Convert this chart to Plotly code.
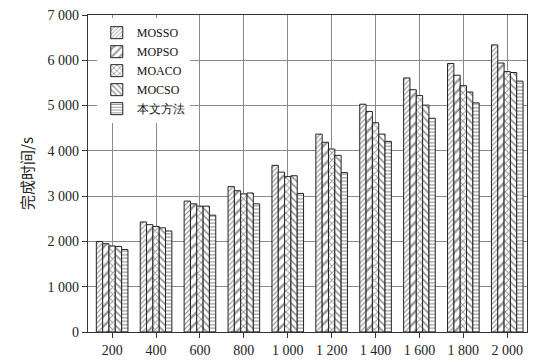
import plotly.graph_objects as go

# Task counts (x categories) and their printed labels
task_counts = [200, 400, 600, 800, 1000, 1200, 1400, 1600, 1800, 2000]
tick_labels = ["200", "400", "600", "800", "1 000", "1 200", "1 400", "1 600", "1 800", "2 000"]

# Completion time (s) for each algorithm
mosso = [2000, 2430, 2890, 3210, 3680, 4370, 5030, 5610, 5930, 6340]
mopso = [1950, 2370, 2830, 3120, 3530, 4190, 4870, 5350, 5670, 5940]
moaco = [1900, 2330, 2780, 3050, 3430, 4040, 4620, 5220, 5440, 5750]
mocso = [1890, 2300, 2780, 3070, 3450, 3900, 4370, 5010, 5300, 5730]
ours = [1820, 2230, 2580, 2830, 3060, 3520, 4210, 4720, 5060, 5540]

series = [
    ("MOSSO", mosso, "/", 3.5),
    ("MOPSO", mopso, "/", 7),
    ("MOACO", moaco, "x", 5),
    ("MOCSO", mocso, "\\", 5),
    ("本文方法", ours, "-", 3.5),
]

fig = go.Figure()
for name, vals, shape, size in series:
    fig.add_trace(go.Bar(
        x=tick_labels,
        y=vals,
        name=name,
        marker=dict(
            color="white",
            line=dict(color="#222222", width=1),
            pattern=dict(shape=shape, size=size, solidity=0.35,
                         fgcolor="#333333", bgcolor="white", fillmode="overlay"),
        ),
    ))

serif = "Liberation Serif"

fig.update_layout(
    width=534, height=364,
    margin=dict(l=88, r=6, t=15, b=26),
    paper_bgcolor="white", plot_bgcolor="white",
    barmode="group", bargap=0.28, bargroupgap=0,
    separators=". ",
    font=dict(family=serif, size=14, color="#222222"),
    showlegend=True,
    legend=dict(
        x=0.02, y=0.99, xanchor="left", yanchor="top",
        bgcolor="white", borderwidth=0,
        font=dict(family=serif, size=12, color="#111111"),
        tracegroupgap=0, itemwidth=30,
    ),
    xaxis=dict(
        type="category",
        range=[-0.55, 9.45],
        showgrid=True, gridcolor="#8a8a8a", gridwidth=1,
        showline=True, linecolor="#333333", linewidth=1.2, mirror=True,
        ticks="outside", ticklen=5, tickcolor="#333333",
        tickfont=dict(family=serif, size=14, color="#222222"),
    ),
    yaxis=dict(
        range=[0, 7000],
        dtick=1000, tickformat=",d",
        showgrid=True, gridcolor="#8a8a8a", gridwidth=1,
        showline=True, linecolor="#333333", linewidth=1.2, mirror=True,
        ticks="outside", ticklen=5, tickcolor="#333333",
        tickfont=dict(family=serif, size=14, color="#222222"),
        title=dict(text="完成时间/s", standoff=10,
                   font=dict(family="Noto Sans CJK SC", size=15, color="#222222")),
        zeroline=False,
    ),
)

fig.write_html("out.html")
